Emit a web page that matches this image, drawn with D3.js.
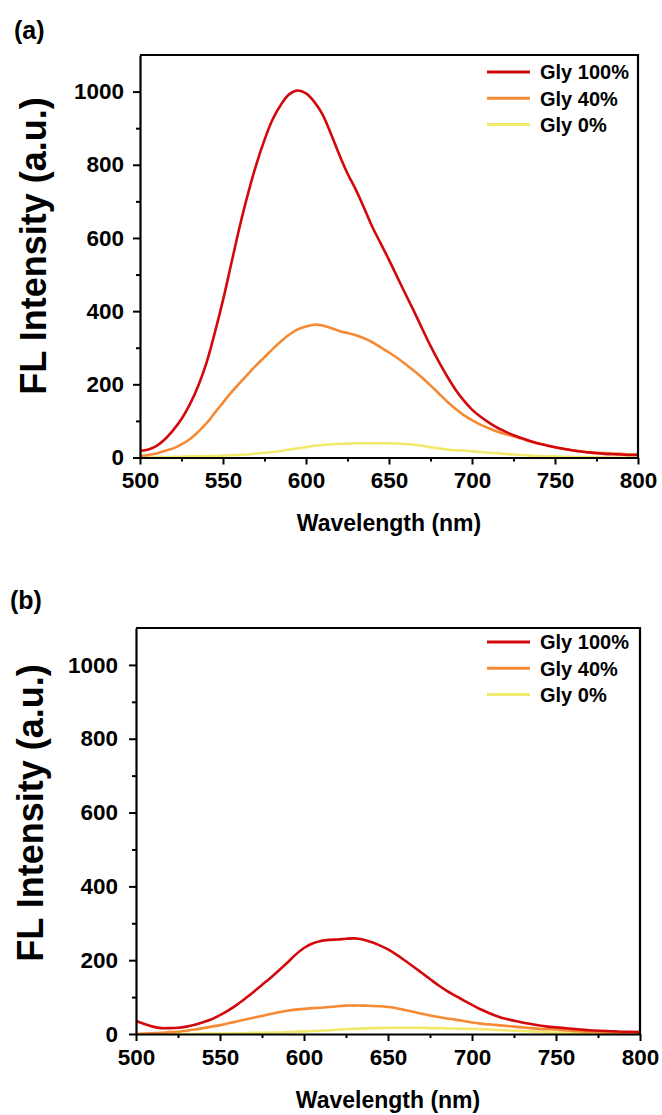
<!DOCTYPE html>
<html>
<head>
<meta charset="utf-8">
<script src="https://cdn.jsdelivr.net/npm/d3@7"></script>
<style>
  body { margin: 0; background: #fff; }
  svg text { font-family: "Liberation Sans", Arial, sans-serif; font-weight: bold; fill: #000; }
</style>
</head>
<body>
<svg id="chart" width="662" height="1115"></svg>
<script>
// wavelength grid (nm)
var wavelength = [500,505,510,515,520,525,530,535,540,545,550,555,560,565,570,575,580,585,590,595,
  600,605,610,615,620,625,630,635,640,645,650,655,660,665,670,675,680,685,690,695,
  700,705,710,715,720,725,730,735,740,745,750,755,760,765,770,775,780,785,790,795,800];

// panel (a)
var a_gly100 = [18,22,32,50,75,105,145,195,258,340,430,530,630,720,800,868,925,965,993,1003,
  995,972,937,885,828,776,732,682,630,585,540,493,446,400,352,305,262,222,186,156,
  131,112,96,82,71,61,53,45,38,33,28,24,20,17,14,12,10,9,8,7,7];
var a_gly40 = [4,7,11,18,25,36,50,70,93,122,150,178,203,228,252,274,297,318,336,350,
  358,363,361,354,346,340,334,326,315,301,287,272,255,237,218,197,175,153,133,116,
  102,90,80,71,64,58,51,44,38,33,28,24,20,17,15,13,12,11,10,9,9];
var a_gly0 = [0,0,1,1,2,2,3,3,4,4,5,6,7,8,11,13,15,18,22,25,
  28,32,34,36,37,38,39,39,39,39,39,38,37,35,32,28,25,22,20,19,
  17,15,13,12,10,8,7,5,4,3,3,2,2,1,1,1,0,0,0,0,0];

// panel (b)
var b_gly100 = [35,27,20,16,16,17,20,25,32,40,51,64,79,96,114,133,152,172,193,215,
  233,245,252,255,256,258,259,256,249,240,229,215,199,183,166,149,132,117,104,91,
  79,67,57,48,41,36,31,27,23,20,18,16,14,12,10,9,8,7,6,6,5];
var b_gly40 = [0,1,2,3,5,6,9,12,16,20,24,29,34,39,44,49,54,59,63,66,
  68,70,71,73,75,77,77,77,76,75,73,70,65,60,55,50,46,42,39,35,
  31,28,26,24,22,20,18,16,14,13,12,10,8,7,6,5,4,4,3,3,3];
var b_gly0 = [0,0,0,0,0,0,0,0,1,1,1,1,2,2,3,3,4,4,5,6,
  7,8,9,10,12,13,14,15,16,16,17,17,17,17,17,16,16,15,15,14,
  14,13,12,11,10,9,8,7,6,5,4,4,3,3,2,2,1,1,1,1,1];

var seriesNames = ["Gly 100%", "Gly 40%", "Gly 0%"];
var seriesColors = ["#d2080c", "#f58a35", "#f0e96a"];
var xTicks = [500, 550, 600, 650, 700, 750, 800];
var yTicks = [0, 200, 400, 600, 800, 1000];

var svg = d3.select("#chart");

function drawPanel(p) {
  var x = d3.scaleLinear().domain([500, 800]).range([p.left, p.right]);
  var y = d3.scaleLinear().domain([0, 1100]).range([p.bottom, p.top]);
  var g = svg.append("g");

  var line = d3.line()
      .x(function(d) { return x(d[0]); })
      .y(function(d) { return y(d[1]); })
      .curve(d3.curveCatmullRom.alpha(0.5));
  // yellow under orange under red
  [2, 1, 0].forEach(function(i) {
    var pts = wavelength.map(function(w, j) { return [w, p.series[i][j]]; });
    g.append("path")
      .datum(pts)
      .attr("fill", "none")
      .attr("stroke", seriesColors[i])
      .attr("stroke-width", 2.6)
      .attr("d", line);
  });

  // minor ticks
  var minorX = d3.range(525, 800, 50);
  var minorY = d3.range(100, 1100, 200);
  g.append("g")
    .attr("transform", "translate(0," + p.bottom + ")")
    .call(d3.axisBottom(x).tickValues(minorX).tickSize(4).tickFormat(""))
    .call(function(s) { s.select(".domain").remove(); s.selectAll("line").attr("stroke-width", 2); });
  g.append("g")
    .attr("transform", "translate(" + p.left + ",0)")
    .call(d3.axisLeft(y).tickValues(minorY).tickSize(4).tickFormat(""))
    .call(function(s) { s.select(".domain").remove(); s.selectAll("line").attr("stroke-width", 2); });

  // major axes
  var xa = g.append("g")
    .attr("transform", "translate(0," + p.bottom + ")")
    .call(d3.axisBottom(x).tickValues(xTicks).tickFormat(d3.format("d")).tickSize(7).tickPadding(p.xPad).tickSizeOuter(0));
  var ya = g.append("g")
    .attr("transform", "translate(" + p.left + ",0)")
    .call(d3.axisLeft(y).tickValues(yTicks).tickFormat(d3.format("d")).tickSize(7).tickPadding(p.yPad).tickSizeOuter(0));
  [xa, ya].forEach(function(a) {
    a.selectAll("line").attr("stroke-width", 2);
    a.select(".domain").attr("stroke-width", 2.2);
    a.selectAll("text").attr("font-size", 22.5).attr("font-family", "Liberation Sans, Arial, sans-serif").attr("font-weight", "bold");
  });

  // top and right frame
  g.append("path")
    .attr("fill", "none")
    .attr("stroke", "#000")
    .attr("stroke-width", 2.2)
    .attr("d", "M" + p.left + "," + p.top + "H" + p.right + "V" + p.bottom);

  // legend
  var lg = g.append("g");
  seriesNames.forEach(function(name, i) {
    var yy = p.legendTop + i * 26.3;
    lg.append("line")
      .attr("x1", 487).attr("x2", 530)
      .attr("y1", yy).attr("y2", yy)
      .attr("stroke", seriesColors[i])
      .attr("stroke-width", 3);
    lg.append("text")
      .attr("x", 540).attr("y", yy)
      .attr("dy", "0.36em")
      .attr("font-size", 20)
      .text(name);
  });

  // axis titles
  svg.append("text")
    .attr("x", (p.left + p.right) / 2)
    .attr("y", p.xTitleY)
    .attr("text-anchor", "middle")
    .attr("font-size", 23)
    .text("Wavelength (nm)");
  svg.append("text")
    .attr("transform", "translate(" + p.yTitleX + "," + p.yTitleY + ") rotate(-90)")
    .attr("text-anchor", "middle")
    .attr("font-size", 36)
    .text("FL Intensity (a.u.)");

  // panel letter
  svg.append("text")
    .attr("x", p.labelX).attr("y", p.labelY)
    .attr("font-size", 25)
    .text(p.label);
}

drawPanel({
  label: "(a)", labelX: 14, labelY: 39,
  left: 140, right: 638, top: 55, bottom: 457.5,
  xPad: 8, yPad: 9,
  legendTop: 72,
  xTitleY: 531, yTitleX: 46, yTitleY: 246,
  series: [a_gly100, a_gly40, a_gly0]
});

drawPanel({
  label: "(b)", labelX: 10, labelY: 609,
  left: 136, right: 640, top: 628, bottom: 1034,
  xPad: 8, yPad: 11,
  legendTop: 642,
  xTitleY: 1108, yTitleX: 43, yTitleY: 813,
  series: [b_gly100, b_gly40, b_gly0]
});
</script>
</body>
</html>
